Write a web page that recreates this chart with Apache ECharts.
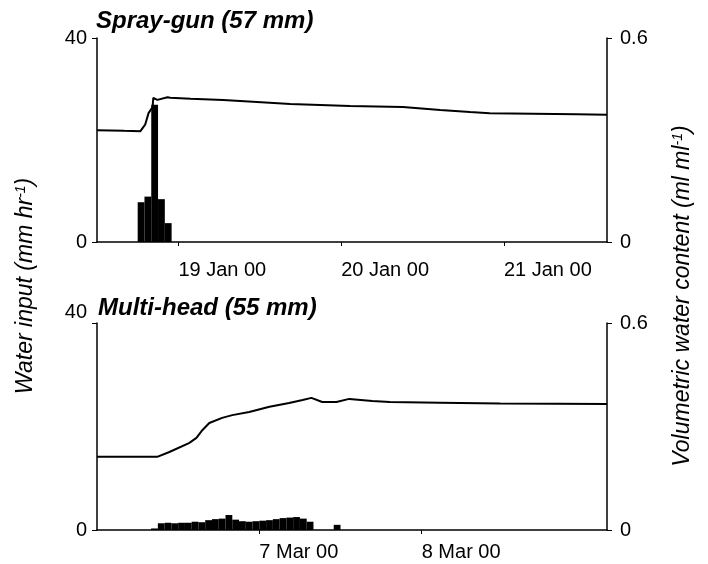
<!DOCTYPE html>
<html>
<head>
<meta charset="utf-8">
<script src="https://cdn.jsdelivr.net/npm/echarts@6/dist/echarts.min.js"></script>
<style>
  html, body { margin: 0; padding: 0; background: #fff; }
  #mainChart { width: 708px; height: 564px; }
</style>
</head>
<body>
<div id="mainChart"></div>
<script>
// x values are hours from midnight of the first labelled day

// Spray-gun: 19 Jan 00 = hour 0
var sprayTickHours = [0, 24, 48];
var sprayTickLabels = ['19 Jan 00', '20 Jan 00', '21 Jan 00'];
var sprayBarHours = [-5.5, -4.5, -3.5, -2.5, -1.5];
var sprayBarInput = [7.8, 8.9, 26.9, 8.4, 3.7];
var sprayLineHours = [-12, -8, -5.6, -4.9, -4.4, -3.8, -3.7, -3.1, -1.6, -1.2, 1.8, 6.6, 11.6, 16.5, 25.3, 33.1, 38.6, 43, 45.9, 58.7, 63.2];
var sprayLineVwc = [0.329, 0.327, 0.326, 0.345, 0.379, 0.397, 0.424, 0.418, 0.426, 0.424, 0.421, 0.418, 0.412, 0.406, 0.400, 0.397, 0.388, 0.382, 0.379, 0.376, 0.374];

// Multi-head: 7 Mar 00 = hour 0
var multiTickHours = [0, 24];
var multiTickLabels = ['7 Mar 00', '8 Mar 00'];
var multiBarHours = [-15.5, -14.5, -13.5, -12.5, -11.5, -10.5, -9.5, -8.5, -7.5, -6.5, -5.5, -4.5, -3.5, -2.5, -1.5, -0.5, 0.5, 1.5, 2.5, 3.5, 4.5, 5.5, 6.5, 7.5, 11.5];
var multiBarInput = [0.3, 1.3, 1.4, 1.3, 1.4, 1.4, 1.6, 1.5, 1.9, 2.1, 2.2, 2.9, 2.0, 1.7, 1.6, 1.7, 1.8, 1.9, 2.1, 2.3, 2.4, 2.5, 2.2, 1.6, 1.0];
var multiLineHours = [-24, -15.1, -13.3, -10.4, -9.3, -8.4, -7.4, -5.5, -4.0, -1.5, 1.5, 4.4, 6.4, 7.7, 9.3, 11.4, 13.3, 16.7, 19.3, 26.7, 35.6, 44, 51.4];
var multiLineVwc = [0.212, 0.212, 0.226, 0.252, 0.267, 0.290, 0.310, 0.325, 0.333, 0.342, 0.357, 0.368, 0.377, 0.383, 0.371, 0.371, 0.380, 0.374, 0.371, 0.369, 0.367, 0.366, 0.365];

var inputTicks = [0, 40];
var vwcTicks = [0, 0.6];

function pairs(xs, ys) {
    return xs.map(function (x, i) { return [x, ys[i]]; });
}

function labelFor(hours, labels) {
    return function (v) {
        var i = hours.indexOf(v);
        return i >= 0 ? labels[i] : '';
    };
}

var fontFamily = '"Liberation Sans", Arial, sans-serif';
var black = '#000';

function xAxisFor(gridIndex, min, max, hours, labels, margin) {
    return {
        type: 'value',
        gridIndex: gridIndex,
        min: min,
        max: max,
        axisLine: { onZero: false, lineStyle: { color: black, width: 1.5 } },
        axisTick: { customValues: hours, length: 4, lineStyle: { color: black } },
        axisLabel: {
            customValues: hours,
            formatter: labelFor(hours, labels),
            align: 'left',
            margin: margin,
            color: black,
            fontSize: 20,
            fontFamily: fontFamily
        },
        splitLine: { show: false }
    };
}

function yAxisFor(gridIndex, side, ticks, raiseTop) {
    return {
        type: 'value',
        gridIndex: gridIndex,
        position: side,
        min: ticks[0],
        max: ticks[1],
        interval: ticks[1] - ticks[0],
        axisLine: { show: true, onZero: false, lineStyle: { color: black, width: 1.5 } },
        axisTick: { show: true, length: 5, lineStyle: { color: black } },
        axisLabel: {
            color: black,
            fontSize: 20,
            fontFamily: fontFamily,
            margin: side === 'left' ? 10 : 13,
            formatter: function (v) {
                return (raiseTop && v === ticks[1]) ? '{up|' + v + '}' : String(v);
            },
            rich: { up: { fontSize: 20, fontFamily: fontFamily, color: black, padding: [0, 0, 22, 0] } }
        },
        splitLine: { show: false }
    };
}

var myChart = echarts.init(document.getElementById('mainChart'));

var titleStyle = { fontSize: 24, fontStyle: 'italic', fontWeight: 'bold', color: black, fontFamily: fontFamily };
var nameRich = {
    a: { fontSize: 23, fontStyle: 'italic', fontFamily: fontFamily, fill: black },
    s: { fontSize: 14, fontStyle: 'italic', fontFamily: fontFamily, fill: black, verticalAlign: 'top', padding: [0, 0, 10, 0] }
};

var option = {
    animation: false,
    backgroundColor: '#fff',
    title: [
        { text: 'Spray-gun (57 mm)', left: 96, top: 9, padding: 0, textStyle: titleStyle },
        { text: 'Multi-head (55 mm)', left: 98, top: 296, padding: 0, textStyle: titleStyle }
    ],
    grid: [
        { left: 97, right: 101, top: 38, height: 204, outerBoundsMode: 'none' },
        { left: 97, right: 101, top: 323, height: 207, outerBoundsMode: 'none' }
    ],
    xAxis: [
        xAxisFor(0, -12, 63.2, sprayTickHours, sprayTickLabels, 18),
        xAxisFor(1, -24, 51.4, multiTickHours, multiTickLabels, 12)
    ],
    yAxis: [
        yAxisFor(0, 'left', inputTicks, false),
        yAxisFor(0, 'right', vwcTicks, false),
        yAxisFor(1, 'left', inputTicks, true),
        yAxisFor(1, 'right', vwcTicks, false)
    ],
    series: [{
        name: 'Spray-gun input',
        type: 'bar',
        xAxisIndex: 0,
        yAxisIndex: 0,
        barWidth: 6.8,
        itemStyle: { color: black },
        data: pairs(sprayBarHours, sprayBarInput)
    }, {
        name: 'Spray-gun VWC',
        type: 'line',
        xAxisIndex: 0,
        yAxisIndex: 1,
        showSymbol: false,
        lineStyle: { color: black, width: 2 },
        data: pairs(sprayLineHours, sprayLineVwc)
    }, {
        name: 'Multi-head input',
        type: 'bar',
        xAxisIndex: 1,
        yAxisIndex: 2,
        barWidth: 6.8,
        itemStyle: { color: black },
        data: pairs(multiBarHours, multiBarInput)
    }, {
        name: 'Multi-head VWC',
        type: 'line',
        xAxisIndex: 1,
        yAxisIndex: 3,
        showSymbol: false,
        lineStyle: { color: black, width: 2 },
        data: pairs(multiLineHours, multiLineVwc)
    }],
    graphic: [{
        type: 'text',
        x: 26,
        y: 286,
        rotation: Math.PI / 2,
        style: { text: '{a|Water input (mm hr}{s|-1}{a|)}', align: 'center', verticalAlign: 'middle', rich: nameRich }
    }, {
        type: 'text',
        x: 683,
        y: 296,
        rotation: Math.PI / 2,
        style: { text: '{a|Volumetric water content (ml ml}{s|-1}{a|)}', align: 'center', verticalAlign: 'middle', rich: nameRich }
    }]
};

myChart.setOption(option);
</script>
</body>
</html>
